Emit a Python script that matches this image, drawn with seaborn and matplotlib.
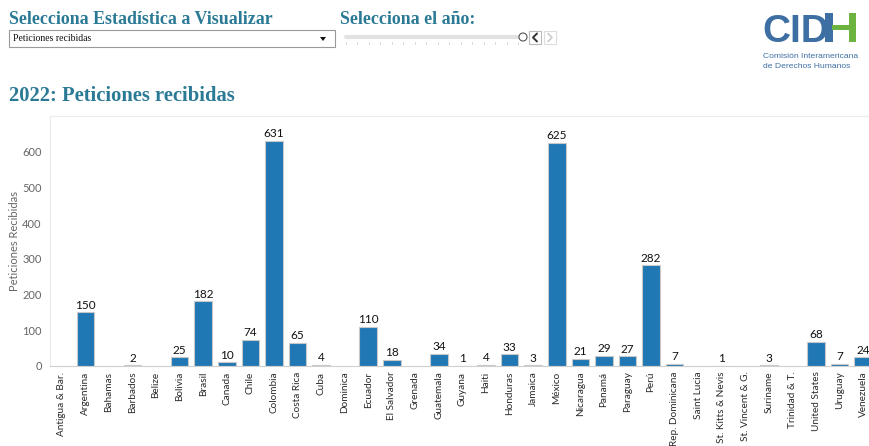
import numpy as np
import pandas as pd
import matplotlib
matplotlib.use("Agg")
import matplotlib.pyplot as plt
import seaborn as sns
from matplotlib.patches import Rectangle, Ellipse, Polygon
from matplotlib.lines import Line2D

# ---------------- data ----------------
countries = ["Antigua & Bar.", "Argentina", "Bahamas", "Barbados", "Belize", "Bolivia",
             "Brasil", "Canada", "Chile", "Colombia", "Costa Rica", "Cuba", "Dominica",
             "Ecuador", "El Salvador", "Grenada", "Guatemala", "Guyana", "Haiti",
             "Honduras", "Jamaica", "México", "Nicaragua", "Panamá", "Paraguay", "Perú",
             "Rep. Dominicana", "Saint Lucia", "St. Kitts & Nevis", "St. Vincent & G.",
             "Suriname", "Trinidad & T.", "United States", "Uruguay", "Venezuela"]
peticiones = [None, 150, None, 2, None, 25,
              182, 10, 74, 631, 65, 4, None,
              110, 18, None, 34, 1, 4,
              33, 3, 625, 21, 29, 27, 282,
              7, None, 1, None,
              3, None, 68, 7, 24]
yticks = [0, 100, 200, 300, 400, 500, 600]
title = "2022: Peticiones recibidas"
ylabel = "Peticiones Recibidas"

df = pd.DataFrame({"pais": countries,
                   "valor": [np.nan if v is None else v for v in peticiones]})

W, H = 869, 446
fig = plt.figure(figsize=(W / 100, H / 100), dpi=100)
sns.set_style("white")
plt.rcParams["font.family"] = ["Lato", "DejaVu Sans"]

def fx(x):
    return x / W

def fy(y):
    return 1 - y / H

TEAL = "#2b7a95"
GRAY = "#666666"

# ---------------- main chart ----------------
left, right, top, bottom = 50, 875, 116, 366
ax = fig.add_axes([fx(left), fy(bottom), (right - left) / W, (bottom - top) / H])
sns.barplot(data=df, x="pais", y="valor", order=countries, ax=ax,
            color="#1f77b4", saturation=1, width=0.75, errorbar=None,
            edgecolor="#c8c8c8", linewidth=0.8)
ax.set_xlim(-0.5, len(countries) - 0.5)
ax.set_ylim(0, 700)
ax.set_yticks(yticks)
ax.set_yticklabels([str(t) for t in yticks], fontsize=8, color=GRAY)
ax.set_xticks(range(len(countries)))
ax.set_xticklabels(countries, rotation=90, fontsize=7.2, color="#2a2a2a")
ax.set_xticks(np.arange(len(countries) - 1) + 0.5, minor=True)
ax.tick_params(axis="x", which="major", length=0, pad=4)
ax.tick_params(axis="x", which="minor", length=5, color="#cfcfcf", width=0.8)
ax.tick_params(axis="y", length=3, color="#dddddd", pad=3)
ax.set_xlabel("")
ax.set_ylabel(ylabel, fontsize=8, color=GRAY, labelpad=1.5)

ax.spines["right"].set_visible(False)
ax.spines["top"].set_color("#ececec")
ax.spines["left"].set_color("#ececec")
ax.spines["bottom"].set_color("#cfcfcf")
for sp in ax.spines.values():
    sp.set_linewidth(0.8)

for i, v in enumerate(peticiones):
    if v is not None:
        ax.text(i, v + 4, str(v), ha="center", va="bottom", fontsize=8.5, color="#111111")

# ---------------- header ----------------
serif = ["Liberation Serif", "DejaVu Serif"]
fig.text(fx(9), fy(20), "Selecciona Estadística a Visualizar", family=serif,
         fontweight="bold", fontsize=12.9, color=TEAL, va="center", ha="left")
fig.text(fx(340), fy(20), "Selecciona el año:", family=serif,
         fontweight="bold", fontsize=12.9, color=TEAL, va="center", ha="left")
fig.text(fx(9), fy(96), title, family=serif, fontweight="bold", fontsize=14.8,
         color=TEAL, va="center", ha="left")

# dropdown
fig.patches.append(Rectangle((fx(9), fy(47)), fx(335) - fx(9), fy(30) - fy(47),
                             transform=fig.transFigure, facecolor="white",
                             edgecolor="#9a9a9a", linewidth=0.8))
fig.text(fx(13), fy(38.5), "Peticiones recibidas", family=serif, fontsize=7,
         color="#111111", va="center", ha="left")
fig.patches.append(Polygon([(fx(320), fy(37)), (fx(326), fy(37)), (fx(323), fy(41))],
                           closed=True, transform=fig.transFigure, facecolor="#111111",
                           edgecolor="none"))

# slider
fig.lines.append(Line2D([fx(346), fx(519)], [fy(37), fy(37)], transform=fig.transFigure,
                        color="#e2e2e2", linewidth=3, zorder=1))
for xt in np.linspace(346, 518, 16):
    fig.lines.append(Line2D([fx(xt), fx(xt)], [fy(42), fy(44)], transform=fig.transFigure,
                            color="#cfcfcf", linewidth=0.6))
fig.patches.append(Ellipse((fx(523), fy(37)), 8 / W, 8 / H, transform=fig.transFigure,
                           facecolor="white", edgecolor="#555555", linewidth=0.8,
                           zorder=5))
# buttons
fig.patches.append(Rectangle((fx(529), fy(44)), 12 / W, 13 / H, transform=fig.transFigure,
                             facecolor="white", edgecolor="#bbbbbb", linewidth=0.8))
fig.patches.append(Rectangle((fx(544), fy(44)), 12 / W, 13 / H, transform=fig.transFigure,
                             facecolor="white", edgecolor="#dddddd", linewidth=0.8))
fig.lines.append(Line2D([fx(537), fx(533), fx(537)], [fy(33.5), fy(37.5), fy(41.5)],
                        transform=fig.transFigure, color="#333333", linewidth=1.4))
fig.lines.append(Line2D([fx(548), fx(552), fx(548)], [fy(33.5), fy(37.5), fy(41.5)],
                        transform=fig.transFigure, color="#cccccc", linewidth=1.2))

# logo
LOGO_BLUE = "#3e6fa3"
LOGO_GREEN = "#6cb33f"
narrow = ["Liberation Sans", "DejaVu Sans"]
fig.text(fx(762), fy(42), "CID", family=narrow, fontweight="bold", fontsize=28,
         color=LOGO_BLUE, va="baseline", ha="left")
fig.patches.append(Rectangle((fx(825), fy(42)), 7.5 / W, 29 / H, transform=fig.transFigure,
                             facecolor=LOGO_BLUE, edgecolor="none"))
fig.patches.append(Rectangle((fx(832), fy(30)), 17 / W, 5 / H, transform=fig.transFigure,
                             facecolor=LOGO_GREEN, edgecolor="none"))
fig.patches.append(Rectangle((fx(848.5), fy(42)), 7.5 / W, 29 / H, transform=fig.transFigure,
                             facecolor=LOGO_GREEN, edgecolor="none"))
fig.text(fx(763), fy(56), "Comisión Interamericana", family=narrow, fontsize=6.1,
         color=LOGO_BLUE, va="center", ha="left")
fig.text(fx(763), fy(67), "de Derechos Humanos", family=narrow, fontsize=6.1,
         color=LOGO_BLUE, va="center", ha="left")

fig.savefig("out.png", dpi=100)
